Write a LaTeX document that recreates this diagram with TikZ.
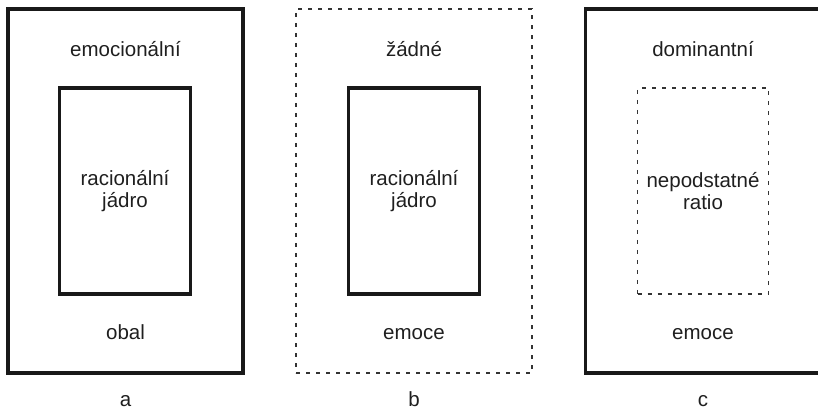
\documentclass[tikz,border=0pt]{standalone}
\usepackage{fontspec}
\setmainfont{Liberation Sans}
\begin{document}
\begin{tikzpicture}[x=1pt,y=-1pt,
  solidouter/.style={draw=black!90,line width=3.6pt,rectangle,inner sep=0pt,outer sep=0pt,minimum width=235pt,minimum height=364pt},
  dashouter/.style={draw=black!80,line width=1.3pt,dash pattern=on 4pt off 6pt,rectangle,inner sep=0pt,outer sep=0pt,minimum width=236pt,minimum height=364pt},
  solidinner/.style={draw=black!90,line width=3.2pt,rectangle,inner sep=0pt,outer sep=0pt,minimum width=131pt,minimum height=206pt},
  dashinner/.style={draw=black!80,line width=1.3pt,dash pattern=on 4pt off 6pt,rectangle,inner sep=0pt,outer sep=0pt,minimum width=131pt,minimum height=206pt},
  lbl/.style={font=\fontsize{20.5}{22.5}\selectfont,text=black!88,inner sep=0pt,anchor=base},
  mid/.style={font=\fontsize{20.5}{22.5}\selectfont,text=black!88,inner sep=0pt,align=center}]
\useasboundingbox (0,0) rectangle (818,411);
\clip (0,0) rectangle (818,411);
% panel a
\node[solidouter] (Aout) at (125.5,191) {};
\node[solidinner] (Ain) at (125,191) {};
\node[lbl] (Atop) at (125.5,56.7) {emocionální};
\node[mid] (Amid) at (Ain.center) {racionální\\jádro};
\node[lbl] (Abot) at (125.5,339) {obal};
\node[lbl] (Alab) at (125.5,406.5) {a};
% panel b
\node[dashouter] (Bout) at (414,191) {};
\node[solidinner] (Bin) at (414,191) {};
\node[lbl] (Btop) at (414,56.7) {žádné};
\node[mid] (Bmid) at (Bin.center) {racionální\\jádro};
\node[lbl] (Bbot) at (414,339) {emoce};
\node[lbl] (Blab) at (414,406.5) {b};
% panel c
\node[solidouter] (Cout) at (703,191) {};
\node[dashinner] (Cin) at (703,191) {};
\node[lbl] (Ctop) at (703,56.7) {dominantní};
\node[mid] (Cmid) at (Cin.center) {nepodstatné\\ratio};
\node[lbl] (Cbot) at (703,339) {emoce};
\node[lbl] (Clab) at (703,406.5) {c};
\end{tikzpicture}
\end{document}
